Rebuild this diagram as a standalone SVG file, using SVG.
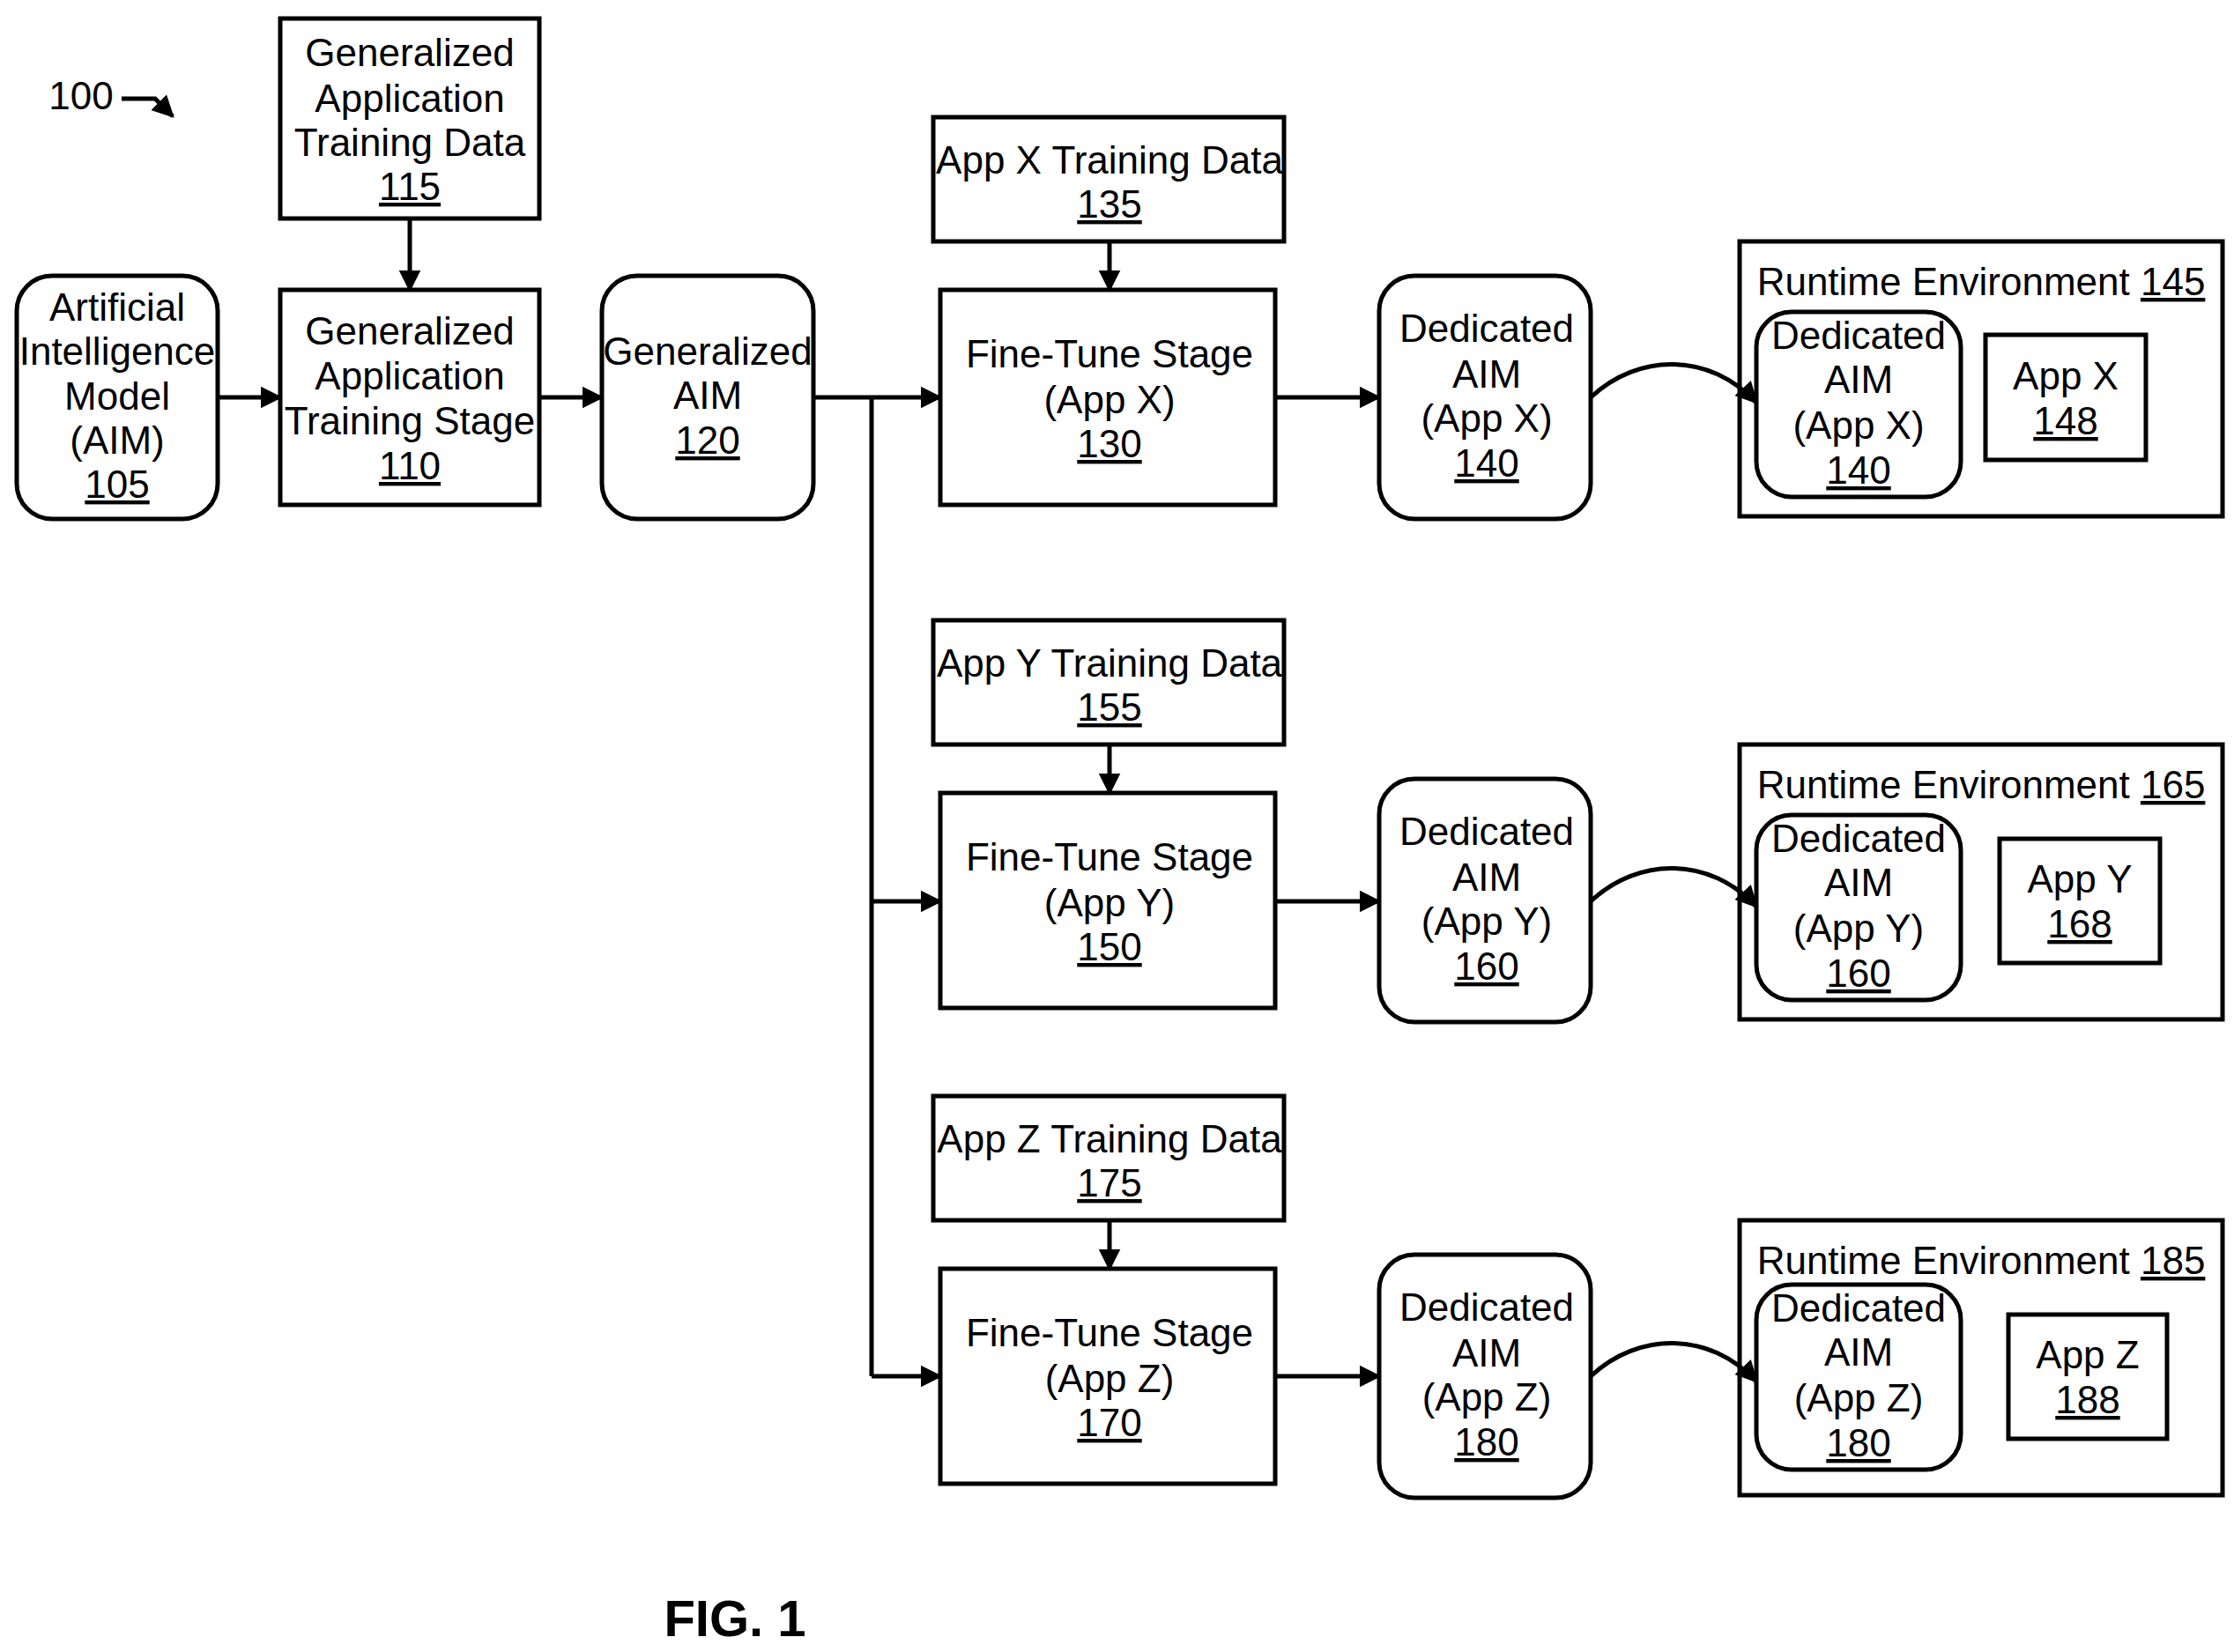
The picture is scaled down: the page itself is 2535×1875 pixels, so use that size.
<svg xmlns="http://www.w3.org/2000/svg" width="2535" height="1875" viewBox="0 0 2535 1875">
<style>
.b{fill:#fff;stroke:#000;stroke-width:5}
.t{font-family:"Liberation Sans Narrow","Liberation Sans",Arial,sans-serif;font-size:44px;text-anchor:middle;fill:#000}
.u{text-decoration:underline}
.c{fill:none;stroke:#000;stroke-width:5}
</style>
<defs>
<marker id="a" viewBox="0 0 10 10" refX="9" refY="5" markerWidth="5" markerHeight="5" orient="auto" markerUnits="strokeWidth"><path d="M0,0L10,5L0,10z" fill="#000"/></marker>
</defs>
<rect width="2535" height="1875" fill="#fff"/>
<g id="label100"><text class="t" x="92" y="124">100</text><path class="c" d="M138,112 L176,112 L196,132" marker-end="url(#a)" stroke-width="4"/></g>
<g id="n105"><rect class="b" x="19" y="313" width="228" height="276" rx="40"/>
<text class="t" x="133" y="364">Artificial</text><text class="t" x="133" y="414">Intelligence</text><text class="t" x="133" y="465">Model</text><text class="t" x="133" y="515">(AIM)</text><text class="t u" x="133" y="565">105</text></g>
<g id="n115"><rect class="b" x="318" y="21" width="294" height="227"/>
<text class="t" x="465" y="75">Generalized</text><text class="t" x="465" y="127">Application</text><text class="t" x="465" y="177">Training Data</text><text class="t u" x="465" y="227">115</text></g>
<g id="n110"><rect class="b" x="318" y="329" width="294" height="244"/>
<text class="t" x="465" y="391">Generalized</text><text class="t" x="465" y="442">Application</text><text class="t" x="465" y="493">Training Stage</text><text class="t u" x="465" y="544">110</text></g>
<g id="n120"><rect class="b" x="683" y="313" width="240" height="276" rx="40"/>
<text class="t" x="803" y="414">Generalized</text><text class="t" x="803" y="464">AIM</text><text class="t u" x="803" y="515">120</text></g>
<g id="n135"><rect class="b" x="1059" y="133" width="398" height="141"/>
<text class="t" x="1259" y="197">App X Training Data</text><text class="t u" x="1259" y="247">135</text></g>
<g id="n130"><rect class="b" x="1067" y="329" width="380" height="244"/>
<text class="t" x="1259" y="417">Fine-Tune Stage</text><text class="t" x="1259" y="469">(App X)</text><text class="t u" x="1259" y="519">130</text></g>
<g id="n140"><rect class="b" x="1565" y="313" width="240" height="276" rx="40"/>
<text class="t" x="1687" y="388">Dedicated</text><text class="t" x="1687" y="440">AIM</text><text class="t" x="1687" y="490">(App X)</text><text class="t u" x="1687" y="541">140</text></g>
<g id="n145"><rect class="b" x="1974" y="274" width="548" height="312"/>
<text class="t" x="2248" y="335">Runtime Environment <tspan class="u">145</tspan></text>
<rect class="b" x="1993" y="354" width="232" height="210" rx="40"/>
<text class="t" x="2109" y="396">Dedicated</text><text class="t" x="2109" y="446">AIM</text><text class="t" x="2109" y="498">(App X)</text><text class="t u" x="2109" y="549">140</text>
<rect class="b" x="2253" y="380" width="182" height="142"/>
<text class="t" x="2344" y="442">App X</text><text class="t u" x="2344" y="493">148</text></g>

<g id="n155"><rect class="b" x="1059" y="704" width="398" height="141"/>
<text class="t" x="1259" y="768">App Y Training Data</text><text class="t u" x="1259" y="818">155</text></g>
<g id="n150"><rect class="b" x="1067" y="900" width="380" height="244"/>
<text class="t" x="1259" y="988">Fine-Tune Stage</text><text class="t" x="1259" y="1040">(App Y)</text><text class="t u" x="1259" y="1090">150</text></g>
<g id="n160"><rect class="b" x="1565" y="884" width="240" height="276" rx="40"/>
<text class="t" x="1687" y="959">Dedicated</text><text class="t" x="1687" y="1011">AIM</text><text class="t" x="1687" y="1061">(App Y)</text><text class="t u" x="1687" y="1112">160</text></g>
<g id="n165"><rect class="b" x="1974" y="845" width="548" height="312"/>
<text class="t" x="2248" y="906">Runtime Environment <tspan class="u">165</tspan></text>
<rect class="b" x="1993" y="925" width="232" height="210" rx="40"/>
<text class="t" x="2109" y="967">Dedicated</text><text class="t" x="2109" y="1017">AIM</text><text class="t" x="2109" y="1069">(App Y)</text><text class="t u" x="2109" y="1120">160</text>
<rect class="b" x="2269" y="952" width="182" height="141"/>
<text class="t" x="2360" y="1013">App Y</text><text class="t u" x="2360" y="1064">168</text></g>

<g id="n175"><rect class="b" x="1059" y="1244" width="398" height="141"/>
<text class="t" x="1259" y="1308">App Z Training Data</text><text class="t u" x="1259" y="1358">175</text></g>
<g id="n170"><rect class="b" x="1067" y="1440" width="380" height="244"/>
<text class="t" x="1259" y="1528">Fine-Tune Stage</text><text class="t" x="1259" y="1580">(App Z)</text><text class="t u" x="1259" y="1630">170</text></g>
<g id="n180"><rect class="b" x="1565" y="1424" width="240" height="276" rx="40"/>
<text class="t" x="1687" y="1499">Dedicated</text><text class="t" x="1687" y="1551">AIM</text><text class="t" x="1687" y="1601">(App Z)</text><text class="t u" x="1687" y="1652">180</text></g>
<g id="n185"><rect class="b" x="1974" y="1385" width="548" height="312"/>
<text class="t" x="2248" y="1446">Runtime Environment <tspan class="u">185</tspan></text>
<rect class="b" x="1993" y="1458" width="232" height="210" rx="40"/>
<text class="t" x="2109" y="1500">Dedicated</text><text class="t" x="2109" y="1550">AIM</text><text class="t" x="2109" y="1602">(App Z)</text><text class="t u" x="2109" y="1653">180</text>
<rect class="b" x="2279" y="1492" width="180" height="141"/>
<text class="t" x="2369" y="1553">App Z</text><text class="t u" x="2369" y="1604">188</text></g>

<g id="connectors">
<path class="c" d="M247,451H318" marker-end="url(#a)"/>
<path class="c" d="M465,248V329" marker-end="url(#a)"/>
<path class="c" d="M612,451H683" marker-end="url(#a)"/>
<path class="c" d="M923,451H1067" marker-end="url(#a)"/>
<path class="c" d="M989,451V1562"/>
<path class="c" d="M989,1023H1067" marker-end="url(#a)"/>
<path class="c" d="M989,1562H1067" marker-end="url(#a)"/>
<path class="c" d="M1259,274V329" marker-end="url(#a)"/>
<path class="c" d="M1259,845V900" marker-end="url(#a)"/>
<path class="c" d="M1259,1385V1440" marker-end="url(#a)"/>
<path class="c" d="M1447,451H1565" marker-end="url(#a)"/>
<path class="c" d="M1447,1023H1565" marker-end="url(#a)"/>
<path class="c" d="M1447,1562H1565" marker-end="url(#a)"/>
<path class="c" d="M1805,451C1860,400 1940,400 1993,457" marker-end="url(#a)"/>
<path class="c" d="M1805,1023C1860,972 1940,972 1993,1029" marker-end="url(#a)"/>
<path class="c" d="M1805,1562C1860,1511 1940,1511 1993,1568" marker-end="url(#a)"/>
</g>
<text x="834" y="1857" style="font-family:'Liberation Sans',Arial,sans-serif;font-size:58px;font-weight:bold;text-anchor:middle">FIG. 1</text>
</svg>
